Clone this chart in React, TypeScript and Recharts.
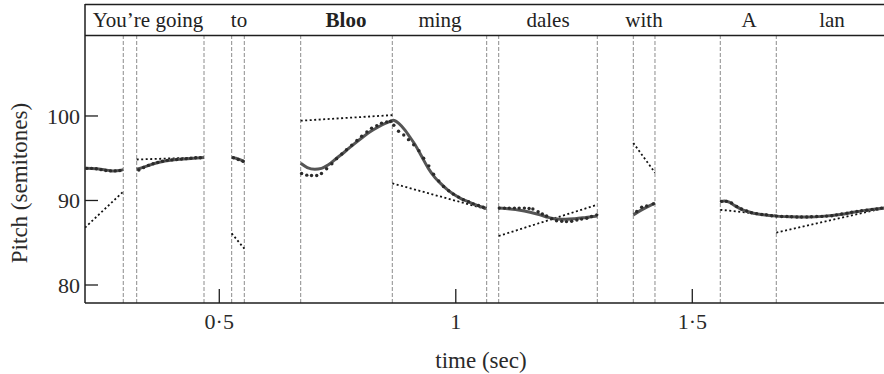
import React from 'react';
import { ComposedChart, Line, Scatter, XAxis, YAxis, ReferenceLine } from 'recharts';

// ---- axes ----
const xTicks = [0.5, 1, 1.5];
const yTicks = [80, 90, 100];
const T_MIN = 0.2161;
const T_MAX = 1.9053;
const P_MIN = 77.87;
const P_MAX = 113.25;
const BAR_P = 109.53; // bottom edge of the word strip
const WORD_P = 110.53; // baseline of the words

// ---- words (syllables) ----
const words = ['You\u2019re going', 'to', 'Bloo', 'ming', 'dales', 'with', 'A', 'lan'];
const wordTimes = [0.3493, 0.5417, 0.7679, 0.9666, 1.195, 1.3979, 1.6199, 1.7954];
const boldWords = ['Bloo'];

// ---- syllable boundaries (s) ----
const boundaries = [0.297, 0.3254, 0.4677, 0.5262, 0.5529, 0.6721, 0.8658, 1.0653, 1.0907, 1.2992, 1.3753, 1.4211, 1.5592, 1.6776];

// ---- fitted pitch contour (solid) [time, semitones] ----
const contourA = [[0.217, 93.8], [0.24, 93.75], [0.26, 93.6], [0.275, 93.5], [0.29, 93.55], [0.297, 93.65]];
const contourB = [[0.3254, 93.7], [0.34, 93.95], [0.3535, 94.2], [0.37, 94.5], [0.385, 94.67], [0.4, 94.8], [0.417, 94.87], [0.44, 94.97], [0.4677, 95.1]];
const contourC = [[0.5262, 95.1], [0.535, 95.0], [0.545, 94.8], [0.5529, 94.6]];
const contourDE = [
  [0.6721, 94.4], [0.686, 93.9], [0.702, 93.7], [0.716, 93.8], [0.73, 94.2], [0.748, 95.0], [0.766, 95.8],
  [0.784, 96.65], [0.801, 97.4], [0.818, 98.1], [0.836, 98.7], [0.852, 99.15], [0.861, 99.35], [0.868, 99.5],
  [0.88, 99.1], [0.893, 98.3], [0.903, 97.5], [0.914, 96.6], [0.928, 95.2], [0.942, 93.8], [0.956, 92.7],
  [0.97, 91.9], [0.984, 91.2], [0.998, 90.65], [1.012, 90.2], [1.026, 89.86], [1.044, 89.45], [1.0653, 89.05],
];
const contourF = [[1.0907, 89.1], [1.115, 89.0], [1.1357, 88.85], [1.157, 88.6], [1.178, 88.3], [1.196, 88.0], [1.2133, 87.8], [1.232, 87.78], [1.252, 87.85], [1.275, 88.0], [1.2992, 88.17]];
const contourG = [[1.3753, 88.3], [1.39, 88.8], [1.405, 89.25], [1.4211, 89.7]];
const contourH = [
  [1.5592, 89.85], [1.568, 89.95], [1.578, 89.8], [1.5867, 89.5], [1.597, 89.15], [1.6078, 88.85], [1.629, 88.5],
  [1.65, 88.3], [1.6784, 88.15], [1.71, 88.08], [1.7419, 88.05], [1.78, 88.15], [1.8123, 88.35], [1.84, 88.6],
  [1.8615, 88.8], [1.8838, 88.95], [1.906, 89.1],
];
const contours = [contourA, contourB, contourC, contourDE, contourF, contourG, contourH];

// ---- measured pitch (dots) [time, semitones] ----
const dotsA = [[0.22, 93.8], [0.23, 93.8], [0.24, 93.75], [0.25, 93.65], [0.26, 93.55], [0.27, 93.5], [0.28, 93.5], [0.29, 93.55]];
const dotsB = [[0.33, 93.6], [0.34, 93.9], [0.35, 94.15], [0.36, 94.35], [0.37, 94.5], [0.38, 94.65], [0.39, 94.75], [0.4, 94.8], [0.41, 94.85], [0.42, 94.9], [0.43, 94.95], [0.44, 95.0], [0.45, 95.05], [0.46, 95.05]];
const dotsC = [[0.53, 95.05], [0.54, 94.85], [0.55, 94.65]];
const dotsD = [
  [0.674, 93.2], [0.685, 93.0], [0.695, 92.95], [0.706, 92.95], [0.716, 93.2], [0.727, 93.75], [0.738, 94.35],
  [0.748, 94.95], [0.759, 95.5], [0.769, 96.0], [0.78, 96.55], [0.791, 97.1], [0.801, 97.6], [0.812, 98.1],
  [0.822, 98.55], [0.833, 98.85], [0.843, 99.15], [0.854, 99.3], [0.862, 99.35],
];
const dotsE = [
  [0.869, 98.9], [0.879, 98.2], [0.89, 97.75], [0.9, 97.2], [0.911, 96.6], [0.922, 95.9], [0.932, 95.0],
  [0.943, 94.1], [0.953, 93.1], [0.964, 92.3], [0.974, 91.65], [0.985, 91.15], [0.995, 90.75], [1.006, 90.4],
  [1.016, 90.1], [1.027, 89.85], [1.037, 89.6], [1.048, 89.4], [1.058, 89.2],
];
const dotsF = [
  [1.092, 89.1], [1.103, 89.1], [1.113, 89.1], [1.124, 89.1], [1.134, 89.1], [1.145, 89.1], [1.155, 89.05],
  [1.163, 89.0], [1.174, 88.67], [1.183, 88.4], [1.192, 88.17], [1.203, 87.85], [1.213, 87.6], [1.224, 87.55],
  [1.234, 87.5], [1.245, 87.55], [1.256, 87.7], [1.266, 87.8], [1.277, 87.9], [1.287, 88.1], [1.298, 88.3],
];
const dotsG = [[1.3825, 88.7], [1.393, 89.2], [1.4036, 89.35], [1.4175, 89.6]];
const dotsH = [
  [1.562, 89.9], [1.572, 89.9], [1.583, 89.7], [1.594, 89.3], [1.604, 89.0], [1.615, 88.75], [1.625, 88.55],
  [1.636, 88.45], [1.647, 88.35], [1.657, 88.3], [1.668, 88.2], [1.678, 88.15], [1.689, 88.1], [1.7, 88.1],
  [1.71, 88.08], [1.721, 88.05], [1.731, 88.05], [1.742, 88.05], [1.752, 88.08], [1.763, 88.1], [1.774, 88.12],
  [1.784, 88.15], [1.795, 88.2], [1.805, 88.3], [1.816, 88.4], [1.827, 88.5], [1.837, 88.6], [1.848, 88.7],
  [1.858, 88.8], [1.869, 88.85], [1.88, 88.95], [1.89, 89.0], [1.9, 89.1],
];
const dotSets = [dotsA, dotsB, dotsC, dotsD, dotsE, dotsF, dotsG, dotsH];

// ---- target lines (dotted) [[t0, p0], [t1, p1]] ----
const targets = [
  [[0.2161, 86.79], [0.297, 91.05]],
  [[0.3254, 94.85], [0.4677, 95.1]],
  [[0.5262, 86.1], [0.5529, 84.3]],
  [[0.6721, 99.44], [0.8658, 100.1]],
  [[0.8658, 92.03], [1.0653, 88.96]],
  [[1.0907, 85.8], [1.2992, 89.5]],
  [[1.3753, 96.8], [1.4211, 93.3]],
  [[1.5592, 88.9], [1.6776, 88.2]],
  [[1.6776, 86.2], [1.9053, 89.1]],
];

const toPts = (arr: number[][]) => arr.map(([t, p]) => ({ t, p }));
const allDots = dotSets.flatMap((d) => toPts(d));
const wordData = words.map((w, i) => ({ t: wordTimes[i], p: WORD_P, w }));

const FONT = "'Liberation Serif', 'Times New Roman', serif";
const INK = '#1e1e1e';

const XTick = (props: any) => {
  const { x, y, payload } = props;
  return (
    <g>
      <line x1={x} y1={y} x2={x} y2={y - 14} stroke={INK} strokeWidth={1.3} />
      <text x={x} y={y + 25.5} textAnchor="middle" fontFamily={FONT} fontSize={22} fill="#2a2a2a">
        {String(payload.value).replace('.', '\u00b7')}
      </text>
    </g>
  );
};

const YTick = (props: any) => {
  const { x, y, payload } = props;
  return (
    <g>
      <line x1={x} y1={y} x2={x + 13} y2={y} stroke={INK} strokeWidth={1.3} />
      <text x={x - 5} y={y + 8} textAnchor="end" fontFamily={FONT} fontSize={22} fill="#2a2a2a">
        {payload.value}
      </text>
    </g>
  );
};

const YTitle = () => (
  <text x={26.7} y={183} transform="rotate(-90 26.7 183)" textAnchor="middle" fontFamily={FONT} fontSize={23} fill="#2a2a2a">
    Pitch (semitones)
  </text>
);

const XTitle = () => (
  <text x={481} y={368} textAnchor="middle" fontFamily={FONT} fontSize={23} fill="#2a2a2a">
    time (sec)
  </text>
);

const DotShape = (props: any) => <circle cx={props.cx} cy={props.cy} r={1.7} fill="#2b2b2b" />;

const WordShape = (props: any) => {
  const w = props.payload.w;
  return (
    <text x={props.cx} y={props.cy} textAnchor="middle" fontFamily={FONT} fontSize={21}
      fontWeight={boldWords.includes(w) ? 'bold' : 'normal'} fill="#222">
      {w}
    </text>
  );
};

export default function App() {
  return (
    <div style={{ position: 'absolute', left: 0, top: 0, background: '#fff' }}>
      <ComposedChart width={884} height={374} margin={{ top: 4, right: 0, bottom: 0, left: 0 }}>
        <XAxis
          type="number"
          dataKey="t"
          domain={[T_MIN, T_MAX]}
          allowDataOverflow
          ticks={xTicks}
          interval={0}
          height={71}
          tickSize={0}
          tickMargin={0}
          tickLine={false}
          tick={<XTick />}
          axisLine={{ stroke: INK, strokeWidth: 1.5 }}
          label={<XTitle />}
        />
        <YAxis
          type="number"
          dataKey="p"
          domain={[P_MIN, P_MAX]}
          allowDataOverflow
          ticks={yTicks}
          interval={0}
          width={85}
          tickSize={0}
          tickMargin={0}
          tickLine={false}
          tick={<YTick />}
          axisLine={{ stroke: INK, strokeWidth: 1.5 }}
          label={<YTitle />}
        />
        {boundaries.map((b) => (
          <ReferenceLine
            key={'b' + b}
            segment={[{ x: b, y: P_MIN }, { x: b, y: BAR_P }]}
            stroke="#8c8c8c"
            strokeWidth={1}
            strokeDasharray="4 2"
            ifOverflow="visible"
          />
        ))}
        <ReferenceLine y={BAR_P} stroke={INK} strokeWidth={1.5} ifOverflow="visible" />
        <ReferenceLine y={P_MAX - 0.05} stroke={INK} strokeWidth={1.5} ifOverflow="visible" />
        {targets.map((seg, i) => (
          <Line
            key={'tg' + i}
            data={toPts(seg)}
            dataKey="p"
            type="linear"
            stroke="#111"
            strokeWidth={1.8}
            strokeDasharray="2 2.5"
            dot={false}
            activeDot={false}
            isAnimationActive={false}
          />
        ))}
        {contours.map((c, i) => (
          <Line
            key={'ct' + i}
            data={toPts(c)}
            dataKey="p"
            type="monotone"
            stroke="#555"
            strokeWidth={3}
            dot={false}
            activeDot={false}
            isAnimationActive={false}
          />
        ))}
        <Scatter data={allDots} dataKey="p" shape={<DotShape />} isAnimationActive={false} />
        <Scatter data={wordData} dataKey="p" shape={<WordShape />} isAnimationActive={false} />
      </ComposedChart>
    </div>
  );
}
